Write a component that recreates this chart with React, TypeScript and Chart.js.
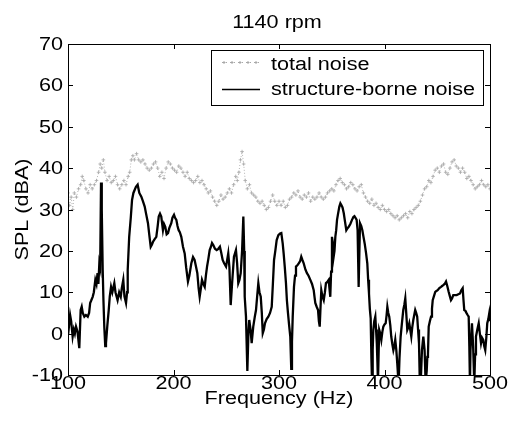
import React, { useEffect, useRef } from "react";
import { Chart, registerables } from "chart.js";

Chart.register(...registerables);

const TITLE = "1140 rpm";
const X_LABEL = "Frequency (Hz)";
const Y_LABEL = "SPL (dBA)";
const SERIES_NAMES = ["total noise", "structure-borne noise"];
const X_TICKS = [100, 200, 300, 400, 500];
const Y_TICKS = [-10, 0, 10, 20, 30, 40, 50, 60, 70];

const totalFreq = [
  100, 101.5, 103, 104.5, 106, 108, 110, 112, 113.5, 115, 117, 119, 121, 123, 125, 127, 129, 130.5, 132, 133.5,
  135, 137, 139, 141, 143, 145, 147, 149, 151, 153, 155, 157, 158.5, 160, 161.5, 163, 165, 167, 169, 171,
  173, 175, 177, 179, 181, 183, 185, 187, 189, 191, 193, 195, 197, 199, 201, 203, 205, 207, 209, 211,
  213, 215, 217, 219, 221, 223, 225, 227, 229, 231, 233, 235, 237, 239, 241, 243, 245, 247, 249, 251,
  253, 255, 257, 259, 260.5, 262, 263.5, 265, 266.5, 268, 270, 272, 274, 276, 278, 280, 282, 284, 286, 288,
  290, 292, 294, 296, 298, 300, 302, 304, 306, 308, 310, 312, 314, 316, 318, 320, 322, 324, 326, 328,
  330, 332, 334, 336, 338, 340, 342, 344, 346, 348, 350, 352, 354, 356, 358, 360, 362, 364, 366, 368,
  370, 372, 374, 376, 378, 380, 382, 384, 386, 388, 390, 392, 394, 396, 398, 400, 402, 404, 406, 408,
  410, 412, 414, 416, 418, 420, 422, 424, 426, 428, 430, 432, 434, 436, 438, 440, 442, 444, 446, 448,
  450, 452, 454, 456, 458, 460, 462, 464, 466, 468, 470, 472, 474, 476, 478, 480, 482, 484, 486, 488,
  490, 492, 494, 496, 498, 500,
];
const totalSpl = [
  34, 31, 33, 30, 34, 33, 35, 36, 38, 37, 35, 34, 36, 35, 36, 37, 39, 41, 40, 42,
  39, 37, 38, 36.5, 37, 38, 36, 35, 36, 37, 36, 38, 39, 42, 43, 42, 43.5, 42, 41.5, 42,
  41, 40, 39.5, 40, 41, 41.5, 40, 38, 39, 37.5, 40, 41.5, 41, 40, 39.5, 39, 40.5, 40, 39, 38,
  39, 37.5, 37, 36.5, 37, 38, 36.5, 37, 36, 35, 34, 34.5, 33, 32, 31, 32, 33.5, 32.5, 33, 34,
  35, 34, 36, 38, 37, 39, 42, 44, 41, 37, 35, 36, 34, 33.5, 33, 32, 31.5, 32, 31, 30,
  30.5, 32, 33.5, 32, 31, 32, 31, 32, 30.5, 31, 32.5, 33, 34, 33.5, 34.5, 33, 32.5, 33.5, 33, 34,
  32, 33, 32.5, 33, 34, 33, 32.5, 33, 34, 34.5, 35, 34.5, 36, 37, 37.5, 36.5, 36, 35, 35.5, 36.5,
  36, 35, 34.5, 35.5, 36, 34, 33, 32, 31.5, 32.5, 31, 31.5, 30.5, 30, 31, 30, 29.5, 30, 29, 28.5,
  28, 28.5, 27.5, 28, 28.5, 29, 28, 29.5, 29, 30, 30.5, 31, 32, 33.5, 35, 35.5, 37, 36.5, 38, 39.5,
  40, 39, 40.5, 41, 39, 38.5, 40, 41.5, 42, 40.5, 40, 39, 40, 39, 37.5, 38, 37, 36, 35, 35.5,
  36, 37, 36, 35.5, 36, 35,
];

const structFreq = [
  100, 101, 102, 103, 104.4, 105.5, 106.5, 107.6, 109, 110.7, 112, 113, 114, 115.5, 117, 118.7, 120, 121, 122, 123.4,
  124.5, 125.9, 127, 128, 128.8, 129.7, 130.5, 131.3, 132, 132.9, 133.6, 134.4, 135.3, 136, 137.3, 138.6, 139.6, 140.8, 142, 143.9,
  145, 147, 148.5, 150, 151, 152.4, 153.5, 155, 156, 156.6, 158, 159.5, 160.7, 162, 164.4, 166, 167.6, 169.5, 171, 172.7,
  174, 175.8, 177, 178.4, 179.5, 180.6, 182, 183.7, 185, 186, 187.2, 188.4, 190, 191, 192.2, 193.5, 194.8, 196, 197.9, 199,
  200.5, 201.5, 202.7, 203.8, 204.9, 206, 207.4, 209, 210.6, 212, 213.7, 215, 216.9, 218.5, 220, 221.5, 222.6, 223.8, 224.8, 226,
  227, 228.3, 229.6, 230.7, 231.8, 233, 234.3, 235.5, 236.5, 237.7, 239.3, 240.9, 242.5, 244, 245.3, 246.6, 248, 249.8, 251, 251.9,
  253, 254.2, 255.5, 257.3, 259.2, 260.3, 261.4, 262.5, 263.7, 265, 266.2, 267, 267.5, 268.7, 270, 271, 271.8, 273, 274.1, 275.6,
  277, 278.2, 279.3, 280.4, 281.5, 282.7, 283.7, 284.6, 285.7, 286.7, 288.3, 289.9, 291.5, 293.1, 294.2, 295.3, 296.5, 297.8, 299.4, 301,
  302.2, 303.5, 304.4, 305.5, 306.6, 307.5, 308.5, 309.6, 310.7, 311.6, 312.3, 313, 314.2, 315.2, 316.1, 317.4, 318.7, 320, 321.1, 322.2,
  323.4, 325, 326.5, 328, 329.7, 331.3, 332.9, 333.6, 334.4, 335.7, 337, 337.8, 338.6, 339.3, 340.1, 341.2, 342.4, 343.5, 344.5, 345.8,
  347.1, 347.8, 348.6, 349.4, 350.2, 351, 351.8, 352.6, 353.4, 354.2, 355, 356, 357.2, 358.2, 359.1, 360.2, 361.4, 362.6, 363.8, 365,
  366.1, 367.6, 369.2, 370.5, 371.5, 372.5, 373.6, 374.5, 375.5, 376.2, 376.8, 378, 379, 380, 381.2, 382.5, 383.7, 384.5, 385.3, 386.1,
  386.9, 387.6, 388.2, 388.8, 389.4, 390.3, 391.3, 392, 392.7, 393.3, 393.8, 394.4, 395, 396, 397, 398, 398.9, 400, 401.1, 402,
  402.7, 403.6, 404.5, 405.5, 406.4, 407.4, 408.4, 409.3, 410.2, 411.2, 412.1, 412.8, 413.4, 414.2, 415.3, 416.5, 417.8, 418.8, 419.7, 420.6,
  421.6, 422.5, 423.5, 424.4, 425.4, 426.3, 427.3, 428.2, 429.1, 430, 431, 431.8, 432.7, 433.5, 434.3, 435.5, 436.8, 438, 439, 440,
  440.6, 441.2, 441.9, 443, 444.1, 445, 445.7, 446.8, 448.1, 449.2, 450.4, 452, 453.6, 454.6, 455.7, 457, 458.3, 459.5, 460.8, 462,
  463, 464, 465.2, 466.8, 468.4, 470, 471.6, 472.8, 474.1, 474.9, 475.6, 476.7, 477.9, 478.8, 479.8, 480.4, 481, 481.5, 482.9, 484,
  485.1, 485.9, 486.7, 488, 489.3, 490.4, 491.5, 492.5, 493.6, 494.5, 495.5, 496.5, 497.4, 498.4, 499.3, 500,
];
const structSpl = [
  4, 2, 4.5, 3, -0.7, 1, 0, 1.7, 0.5, -3.5, 5.7, 6.5, 5, 4.1, 4.5, 4.1, 5, 7.4, 8, 8.9,
  10, 13, 12, 14.6, 12, 17, 16, 36.5, 30, 15.4, 8, 1.7, -3, -2.3, 2, 5.7, 9, 11.3, 10, 12.2,
  10, 8.1, 10, 8.9, 11, 13, 9, 7.4, 10, 15.4, 23.4, 28, 32.3, 34, 35.5, 36, 34, 33.1, 32, 30.7,
  29, 26.7, 24, 21, 21.5, 22.2, 22.8, 23.4, 26, 28.3, 29, 28.3, 25, 26.5, 25.8, 24, 24.3, 25.5, 26.7, 28,
  28.7, 28, 27.5, 26, 25, 24.5, 23.4, 21, 19.4, 16, 12.6, 14, 17, 18.5, 17.8, 16, 14.6, 11, 8.9, 11,
  13, 12, 11.3, 14, 16.2, 18, 20.2, 21, 21.9, 21.4, 20.5, 20.2, 20.5, 21, 19.5, 17.8, 17, 16.2, 18, 19.4,
  16, 6.9, 12, 18.6, 20.2, 17, 12.2, 13, 14.6, 20, 28.3, 20, 8.9, 4.1, -9, 0, 3.3, 1, -2.3, 1.7,
  4, 5.7, 9, 12.2, 10, 8.9, 5, 0.1, 1, 2.5, 3.5, 4.1, 5, 6.5, 12, 17.8, 20, 22.6, 23.8, 24.2,
  24.3, 21.8, 19.4, 16, 12.2, 8, 5, 2, -0.7, -8.5, -2, 4.1, 11.3, 14, 16.2, 16.5, 17, 17.5, 18.6, 17.8,
  17, 15.5, 14.6, 14, 13, 12, 10.5, 9, 7.4, 6.5, 5.7, 3, 1.7, 6, 10.5, 9, 8.1, 10, 12.2, 12.5,
  13, 11, 8.9, 15, 23.4, 22, 18.6, 20, 23.4, 25, 27.5, 29, 30.7, 31.5, 31.1, 30.5, 29.1, 27, 25, 25.5,
  25.8, 26.5, 27.5, 28.2, 28.4, 28, 27.5, 25, 11.3, 20, 26.7, 26, 25, 23.5, 21.8, 19.5, 17, 13, 9.7, 6,
  3.7, -6, -12, -4, 0.9, 3, 4.1, 1, -2.3, -7, -12, -5, 0.9, 0, -1.5, 0.5, 1.7, 2.2, 2.5, 4.5,
  6.5, 5, 4.1, 2, -0.7, -2.5, -4, -3, -1.5, -4, -7.2, -10, -12, -6, -0.7, 2.5, 5.7, 7, 8.5, 5,
  0.9, 1.5, 2.5, 1, -0.7, 1.5, 3.3, 4.5, 5.7, 5, 4.1, 1, -2.3, -12, -12, -4, -0.7, -4, -12, -9,
  -5.6, -5, 1.7, 3, 4.1, 6, 8.1, 9, 10.1, 10.3, 10.5, 11, 11.3, 11.5, 11.7, 12, 12.6, 11.5, 10.1, 9,
  8.1, 8.5, 9.3, 9.3, 9.3, 9.5, 9.7, 10.5, 11, 8, 5.7, 5.5, 4.9, 4.5, 4.1, -3, -12, -4, 2.5, -3,
  -12, -5, -0.7, 1, 2.5, 0, -2.3, -1, -1.5, -3, -4, -1, 2.5, 3.5, 4.9, 3,
];

const FONT = '18px "Liberation Sans", Arial, sans-serif';
const WIDE = 1.2;

function wideText(
  ctx: CanvasRenderingContext2D,
  text: string,
  x: number,
  y: number,
  align: CanvasTextAlign,
  rotate = false
) {
  ctx.save();
  ctx.translate(x, y);
  if (rotate) ctx.rotate(-Math.PI / 2);
  ctx.scale(WIDE, 1);
  ctx.font = FONT;
  ctx.fillStyle = "#000";
  ctx.textAlign = align;
  ctx.textBaseline = "alphabetic";
  ctx.fillText(text, 0, 0);
  ctx.restore();
}

const framePlugin = {
  id: "matlabFrame",
  afterDatasetsDraw(chart: any) {
    const ctx: CanvasRenderingContext2D = chart.ctx;
    const { left, right, top, bottom } = chart.chartArea;
    const xs = chart.scales.x;
    const ys = chart.scales.y;
    const tl = 5;
    ctx.save();
    ctx.strokeStyle = "#000";
    ctx.lineWidth = 1;
    ctx.strokeRect(Math.round(left) + 0.5, Math.round(top) + 0.5, Math.round(right - left), Math.round(bottom - top));
    ctx.beginPath();
    X_TICKS.forEach((v) => {
      const px = Math.round(xs.getPixelForValue(v)) + 0.5;
      ctx.moveTo(px, bottom);
      ctx.lineTo(px, bottom - tl);
      ctx.moveTo(px, top);
      ctx.lineTo(px, top + tl);
    });
    Y_TICKS.forEach((v) => {
      const py = Math.round(ys.getPixelForValue(v)) + 0.5;
      ctx.moveTo(left, py);
      ctx.lineTo(left + tl, py);
      ctx.moveTo(right, py);
      ctx.lineTo(right - tl, py);
    });
    ctx.stroke();
    ctx.restore();

    // tick labels
    X_TICKS.forEach((v) => {
      wideText(ctx, String(v), xs.getPixelForValue(v), bottom + 14, "center");
    });
    Y_TICKS.forEach((v) => {
      wideText(ctx, String(v), left - 5, ys.getPixelForValue(v) + 6, "right");
    });

    // titles
    const cx = (left + right) / 2;
    const cy = (top + bottom) / 2;
    wideText(ctx, TITLE, cx - 2, 28, "center");
    wideText(ctx, X_LABEL, cx, 404, "center");
    wideText(ctx, Y_LABEL, 28, cy, "center", true);

    // legend
    const lx = 211, ly = 50, lw = 272, lh = 55;
    ctx.save();
    ctx.fillStyle = "#fff";
    ctx.fillRect(lx, ly, lw, lh);
    ctx.strokeStyle = "#000";
    ctx.lineWidth = 1;
    ctx.strokeRect(lx + 0.5, ly + 0.5, lw, lh);
    // row 1: dotted gray with crosses
    ctx.strokeStyle = "#a8a8a8";
    ctx.lineWidth = 1;
    ctx.setLineDash([1, 3]);
    ctx.beginPath();
    ctx.moveTo(222, 62.5);
    ctx.lineTo(260, 62.5);
    ctx.stroke();
    ctx.setLineDash([]);
    ctx.beginPath();
    for (let px = 224; px <= 258; px += 8) {
      ctx.moveTo(px - 1.5, 62.5);
      ctx.lineTo(px + 1.5, 62.5);
      ctx.moveTo(px, 61);
      ctx.lineTo(px, 64);
    }
    ctx.stroke();
    // row 2: solid black
    ctx.strokeStyle = "#000";
    ctx.lineWidth = 1.5;
    ctx.beginPath();
    ctx.moveTo(222, 89.5);
    ctx.lineTo(260, 89.5);
    ctx.stroke();
    ctx.restore();
    wideText(ctx, SERIES_NAMES[0], 271, 70, "left");
    wideText(ctx, SERIES_NAMES[1], 271, 95, "left");
  },
};

export default function App() {
  const ref = useRef<HTMLCanvasElement | null>(null);

  useEffect(() => {
    document.body.style.margin = "0";
    const canvas = ref.current;
    if (!canvas) return;
    const chart = new Chart(canvas, {
      type: "line",
      data: {
        datasets: [
          {
            label: SERIES_NAMES[0],
            data: totalFreq.map((f, i) => ({ x: f, y: totalSpl[i] })),
            borderColor: "#b4b4b4",
            borderWidth: 1,
            borderDash: [1, 2],
            pointStyle: "cross",
            pointRadius: 1.8,
            pointBorderColor: "#a6a6a6",
            pointBorderWidth: 0.8,
            pointBackgroundColor: "#a6a6a6",
            tension: 0,
            order: 2,
          },
          {
            label: SERIES_NAMES[1],
            data: structFreq.map((f, i) => ({ x: f, y: structSpl[i] })),
            borderColor: "#000",
            borderWidth: 2.3,
            pointRadius: 0,
            tension: 0,
            order: 1,
          },
        ],
      },
      options: {
        responsive: false,
        animation: false,
        devicePixelRatio: 1,
        layout: { padding: { left: 68, right: 18, top: 44, bottom: 51 } },
        plugins: {
          legend: { display: false },
          title: { display: false },
          tooltip: { enabled: false },
        },
        scales: {
          x: { type: "linear", min: 100, max: 500, display: false },
          y: { type: "linear", min: -10, max: 70, display: false },
        },
      },
      plugins: [framePlugin],
    });
    return () => chart.destroy();
  }, []);

  return (
    <div style={{ width: 508, height: 426, background: "#fff" }}>
      <canvas ref={ref} width={508} height={426} />
    </div>
  );
}
